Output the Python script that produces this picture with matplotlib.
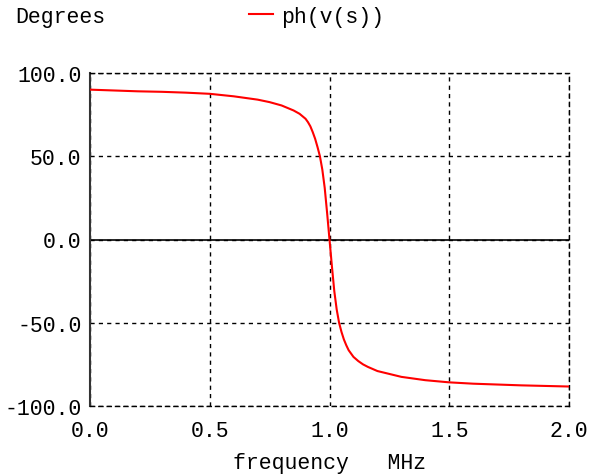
import matplotlib
matplotlib.use("Agg")
import matplotlib.pyplot as plt

# phase of v(s), degrees vs MHz
freq = [0.0, 0.1, 0.2, 0.3, 0.4, 0.5, 0.6, 0.7, 0.75, 0.8, 0.85, 0.875,
        0.9, 0.91, 0.92, 0.93, 0.94, 0.95, 0.96, 0.97, 0.98, 0.99, 1.0,
        1.01, 1.02, 1.03, 1.04, 1.05, 1.06, 1.07, 1.08, 1.1, 1.12, 1.14,
        1.16, 1.2, 1.3, 1.4, 1.5, 1.6, 1.8, 2.0]
phase = [90.0, 89.5, 89.0, 88.7, 88.2, 87.5, 86.0, 84.0, 82.5, 80.5, 77.5,
         75.5, 72.5, 70.5, 68.0, 64.5, 60.5, 55.5, 50.0, 42.0, 31.0, 16.0,
         0.0, -16.0, -31.0, -42.0, -50.0, -55.5, -60.0, -63.5, -66.5, -70.5,
         -73.0, -75.0, -76.5, -79.0, -82.5, -84.5, -85.8, -86.6, -87.6,
         -88.3]

xticks = [0.0, 0.5, 1.0, 1.5, 2.0]
yticks = [-100.0, -50.0, 0.0, 50.0, 100.0]

mono = "Liberation Mono"
fs = 15.5

fig = plt.figure(figsize=(5.95, 4.77), dpi=100)
ax = fig.add_axes([90 / 595, 70 / 477, 479 / 595, 333 / 477])

ax.plot(freq, phase, color="red", lw=1.5, label="ph(v(s))", zorder=3)
ax.axhline(0, color="black", lw=1.2, zorder=2)

ax.set_xlim(0, 2)
ax.set_ylim(-100, 100)
ax.set_xticks(xticks)
ax.set_yticks(yticks)
ax.set_xticklabels([f"{v:.1f}" for v in xticks], family=mono, fontsize=fs)
ax.set_yticklabels([f"{v:.1f}" for v in yticks], family=mono, fontsize=fs)
ax.tick_params(axis="x", length=0, pad=10)
ax.tick_params(axis="y", length=0, pad=6)

ax.grid(True, color="black", linestyle=(0, (3, 3)), lw=1.0)
for side in ["top", "right", "bottom"]:
    ax.spines[side].set_linestyle((0, (3, 3)))
    ax.spines[side].set_linewidth(1.0)
ax.spines["left"].set_linewidth(1.5)
ax.spines["left"].set_color("#333333")

ax.set_xlabel("frequency   MHz", family=mono, fontsize=fs, labelpad=8)

fig.text(15 / 595, 1 - 18 / 477, "Degrees", family=mono, fontsize=fs,
         va="center", ha="left")
ax.legend(loc="center left", bbox_to_anchor=(249 / 595, 1 - 17 / 477),
          bbox_transform=fig.transFigure, frameon=False, borderpad=0,
          borderaxespad=0, prop={"family": mono, "size": fs},
          handlelength=1.1, handletextpad=0.38)

fig.savefig("out.png", dpi=100)
